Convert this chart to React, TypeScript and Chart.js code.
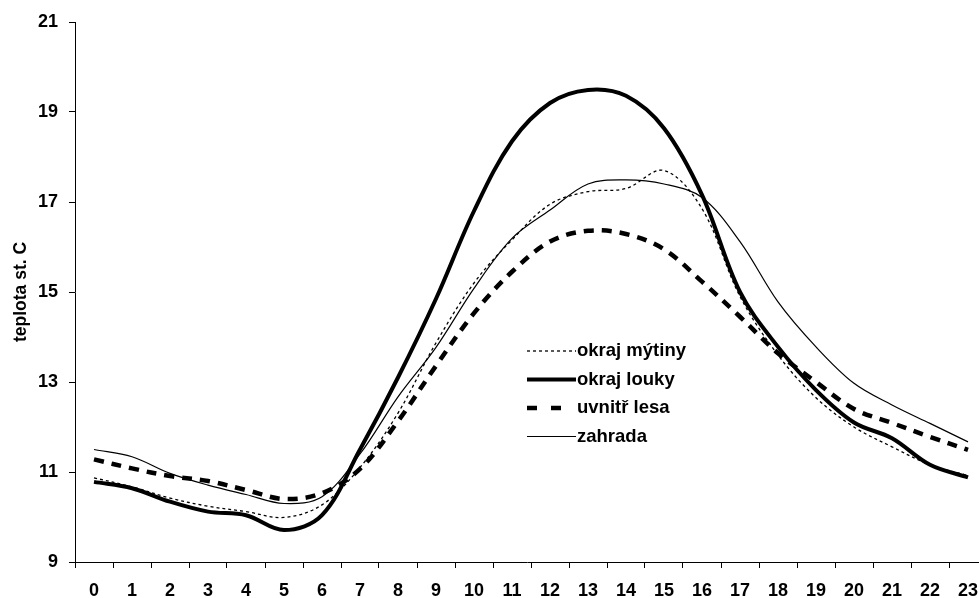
import React, { useEffect, useRef } from "react";
import { Chart, registerables } from "chart.js";

Chart.register(...registerables);

// ---- data ----
const hours = [0, 1, 2, 3, 4, 5, 6, 7, 8, 9, 10, 11, 12, 13, 14, 15, 16, 17, 18, 19, 20, 21, 22, 23];
const seriesNames = ["okraj mýtiny", "okraj louky", "uvnitř lesa", "zahrada"];
const okrajMytiny = [10.87, 10.67, 10.42, 10.24, 10.12, 9.99, 10.27, 11.1, 12.31, 13.87, 15.2, 16.16, 16.95, 17.23, 17.3, 17.7, 16.85, 14.9, 13.6, 12.65, 12.0, 11.56, 11.16, 10.92];
const okrajLouky = [10.78, 10.64, 10.34, 10.12, 10.04, 9.71, 10.04, 11.5, 13.1, 14.85, 16.8, 18.35, 19.2, 19.49, 19.36, 18.64, 17.16, 15.0, 13.78, 12.82, 12.1, 11.75, 11.16, 10.88];
const uvnitrLesa = [11.28, 11.08, 10.91, 10.8, 10.6, 10.4, 10.53, 11.07, 12.13, 13.36, 14.53, 15.45, 16.12, 16.36, 16.29, 15.95, 15.23, 14.45, 13.64, 13.0, 12.4, 12.09, 11.78, 11.49];
const zahrada = [11.5, 11.34, 10.97, 10.71, 10.5, 10.3, 10.45, 11.4, 12.67, 13.77, 15.08, 16.19, 16.82, 17.4, 17.49, 17.4, 17.1, 16.12, 14.78, 13.78, 12.97, 12.49, 12.08, 11.67];
const yTicks = [9, 11, 13, 15, 17, 19, 21];
const yAxisTitle = "teplota st. C";

const FONT = '"Liberation Sans", Arial, sans-serif';

const toPoints = (vals: number[]) => hours.map((h, i) => ({ x: h, y: vals[i] }));

const insideLegend = {
  id: "insideLegend",
  afterDraw(chart: any) {
    const ctx = chart.ctx;
    ctx.save();
    chart.data.datasets.forEach((ds: any, i: number) => {
      const y = 351 + i * 28.5;
      const thickDash = ds.borderDash && ds.borderWidth > 3;
      const dash = ds.borderDash ? (thickDash ? [10, 14] : ds.borderDash) : [];
      ctx.beginPath();
      ctx.setLineDash(dash);
      ctx.lineWidth = ds.borderWidth;
      ctx.strokeStyle = ds.borderColor;
      ctx.lineCap = "butt";
      ctx.moveTo(527, y);
      ctx.lineTo(thickDash ? 562 : 576, y);
      ctx.stroke();
      ctx.setLineDash([]);
      ctx.fillStyle = "#000";
      ctx.font = `bold 18.5px ${FONT}`;
      ctx.textBaseline = "middle";
      ctx.textAlign = "left";
      ctx.fillText(ds.label, 577, y);
    });
    ctx.restore();
  },
};

export default function App() {
  const ref = useRef<HTMLCanvasElement | null>(null);

  useEffect(() => {
    document.body.style.margin = "0";
    const canvas = ref.current;
    if (!canvas) return;
    const xTickValues = [...hours.map((h) => h - 0.5), ...hours].sort((a, b) => a - b);

    const chart = new Chart(canvas, {
      type: "line",
      data: {
        datasets: [
          {
            label: seriesNames[0],
            data: toPoints(okrajMytiny),
            borderColor: "#000",
            borderWidth: 1.3,
            borderDash: [3, 3],
            pointRadius: 0,
            tension: 0.35,
            fill: false,
          },
          {
            label: seriesNames[1],
            data: toPoints(okrajLouky),
            borderColor: "#000",
            borderWidth: 4,
            pointRadius: 0,
            tension: 0.35,
            fill: false,
          },
          {
            label: seriesNames[2],
            data: toPoints(uvnitrLesa),
            borderColor: "#000",
            borderWidth: 4.5,
            borderDash: [10, 8],
            pointRadius: 0,
            tension: 0.35,
            fill: false,
          },
          {
            label: seriesNames[3],
            data: toPoints(zahrada),
            borderColor: "#000",
            borderWidth: 1.2,
            pointRadius: 0,
            tension: 0.35,
            fill: false,
          },
        ],
      },
      options: {
        animation: false,
        responsive: true,
        maintainAspectRatio: false,
        layout: { padding: { top: 22, left: 0, right: 0, bottom: 0 } },
        plugins: {
          legend: { display: false },
          tooltip: { enabled: false },
        },
        scales: {
          x: {
            type: "linear",
            min: -0.5,
            max: -0.5 + (979 - 75) / 38,
            bounds: "data",
            afterBuildTicks: (scale: any) => {
              scale.ticks = xTickValues.map((v) => ({ value: v }));
            },
            afterFit: (scale: any) => {
              scale.height = 36;
              scale.paddingLeft = 0;
              scale.paddingRight = 0;
            },
            border: { display: true, color: "#000", width: 1 },
            grid: {
              drawOnChartArea: false,
              drawTicks: true,
              tickLength: 6,
              lineWidth: 1,
              color: (ctx: any) =>
                ctx.tick && Number.isInteger(ctx.tick.value) ? "rgba(0,0,0,0)" : "#000",
            },
            ticks: {
              autoSkip: false,
              maxRotation: 0,
              minRotation: 0,
              padding: 12,
              color: "#000",
              font: { family: FONT, size: 18, weight: "bold" },
              callback: (v: any) => (Number.isInteger(v) ? String(v) : ""),
            },
          },
          y: {
            type: "linear",
            min: yTicks[0],
            max: yTicks[yTicks.length - 1],
            afterBuildTicks: (scale: any) => {
              scale.ticks = yTicks.map((v) => ({ value: v }));
            },
            afterFit: (scale: any) => {
              scale.width = 75;
            },
            border: { display: true, color: "#000", width: 1 },
            grid: {
              drawOnChartArea: false,
              drawTicks: true,
              tickLength: 6,
              color: "#000",
            },
            ticks: {
              padding: 11,
              color: "#000",
              font: { family: FONT, size: 18, weight: "bold" },
            },
            title: {
              display: true,
              text: yAxisTitle,
              color: "#000",
              font: { family: FONT, size: 17.5, weight: "bold" },
              padding: { top: 11, bottom: 0 },
            },
          },
        },
      },
      plugins: [insideLegend],
    });
    return () => chart.destroy();
  }, []);

  return (
    <div style={{ position: "fixed", left: 0, top: 0, width: 979, height: 598, background: "#fff" }}>
      <canvas ref={ref} />
    </div>
  );
}
